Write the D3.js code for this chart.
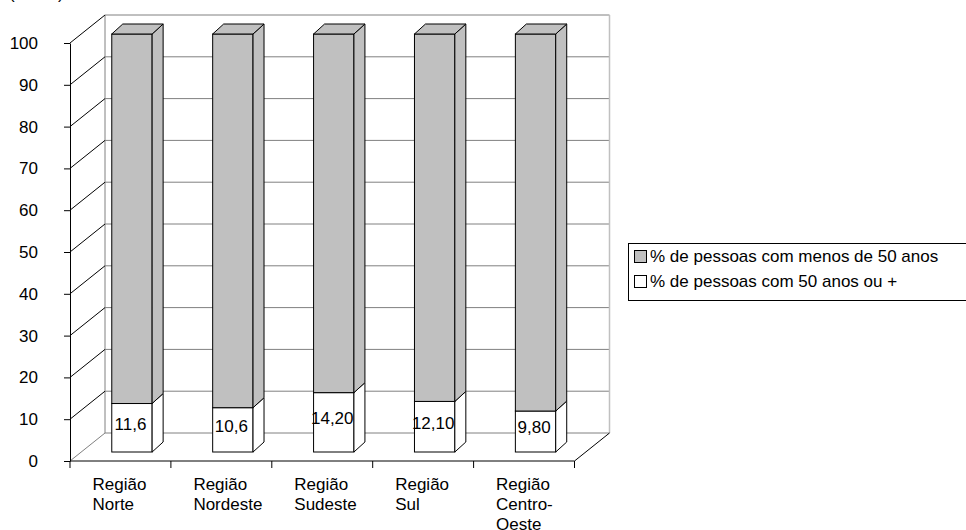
<!DOCTYPE html>
<html>
<head>
<meta charset='utf-8'>
<script src='https://cdn.jsdelivr.net/npm/d3@7'></script>
<style>
  body { margin: 0; background: #fff; }
  svg { display: block; font-family: 'Liberation Sans', Arial, sans-serif; }
</style>
</head>
<body>
<div id='chart'></div>

<script>
  categories = [['Região', 'Norte'], ['Região', 'Nordeste'], ['Região', 'Sudeste'], ['Região', 'Sul'], ['Região', 'Centro-', 'Oeste']]
  older = [11.6, 10.6, 14.2, 12.1, 9.8]
  younger = [88.4, 89.4, 85.8, 87.9, 90.2]
  olderLabels = ['11,6', '10,6', '14,20', '12,10', '9,80']
  seriesNames = ['% de pessoas com menos de 50 anos', '% de pessoas com 50 anos ou +']
  seriesColors = ['#c0c0c0', '#ffffff']
  yTicks = [0, 10, 20, 30, 40, 50, 60, 70, 80, 90, 100]

  // 3d offsets: wall depth, bar front plane, bar depth
  wall = {x: 35, y: -28}
  front = {x: 11.5, y: -9}
  bar = {x: 11, y: -10}

  svg = d3.select('#chart')
          .append('svg')
          .attr('width', 966)
          .attr('height', 530)

  y = d3.scaleLinear()
        .domain([0, 100])
        .range([461, 43])

  xCat = d3.scaleBand()
           .domain(d3.range(categories.length))
           .range([70, 574.5])

  x = d3.scaleBand()
        .domain(d3.range(categories.length))
        .range([70, 574.5])
        .paddingInner(0.6)
        .paddingOuter(0.3)

  x0 = xCat.range()[0]
  x1 = xCat.range()[1]

  // partial heading at the very top
  svg.append('text')
     .attr('x', 9)
     .attr('y', -1)
     .attr('font-size', 17)
     .text('(em %)')

  // back wall
  walls = svg.append('g')

  walls.selectAll('line.grid')
       .data(yTicks.slice(1))
       .enter()
       .append('line')
       .attr('x1', x0 + wall.x)
       .attr('x2', x1 + wall.x)
       .attr('y1', function(d) { return y(d) + wall.y })
       .attr('y2', function(d) { return y(d) + wall.y })
       .attr('stroke', '#808080')

  walls.append('line')
       .attr('x1', x0 + wall.x)
       .attr('x2', x1 + wall.x)
       .attr('y1', y(0) + wall.y)
       .attr('y2', y(0) + wall.y)
       .attr('stroke', '#808080')

  walls.append('line')
       .attr('x1', x0 + wall.x)
       .attr('x2', x0 + wall.x)
       .attr('y1', y(100) + wall.y)
       .attr('y2', y(0) + wall.y)
       .attr('stroke', '#808080')

  walls.append('line')
       .attr('x1', x1 + wall.x)
       .attr('x2', x1 + wall.x)
       .attr('y1', y(100) + wall.y)
       .attr('y2', y(0) + wall.y)
       .attr('stroke', '#c0c0c0')
       .attr('stroke-width', 1.5)

  // side wall diagonals
  walls.selectAll('line.diag')
       .data(yTicks)
       .enter()
       .append('line')
       .attr('x1', x0)
       .attr('x2', x0 + wall.x)
       .attr('y1', function(d) { return y(d) })
       .attr('y2', function(d) { return y(d) + wall.y })
       .attr('stroke', function(d) { return d == 0 ? '#808080' : '#000' })

  // floor right edge
  walls.append('line')
       .attr('x1', x1)
       .attr('x2', x1 + wall.x)
       .attr('y1', y(0))
       .attr('y2', y(0) + wall.y)
       .attr('stroke', '#000')

  // y axis
  yAxis = svg.append('g')
             .attr('transform', 'translate(' + x0 + ',0)')
             .call(d3.axisLeft(y).tickValues(yTicks).tickSize(6).tickPadding(26).tickSizeOuter(0))

  yAxis.attr('font-size', 17).attr('font-family', null)
  yAxis.select('.domain').attr('stroke', '#000')
  yAxis.selectAll('.tick line').attr('stroke', '#000')
  yAxis.selectAll('.tick text').attr('fill', '#000')

  // x axis
  svg.append('line')
     .attr('x1', x0)
     .attr('x2', x1)
     .attr('y1', y(0))
     .attr('y2', y(0))
     .attr('stroke', '#000')

  svg.selectAll('line.xtick')
     .data(d3.range(categories.length + 1))
     .enter()
     .append('line')
     .attr('x1', function(d) { return x0 + d * xCat.step() })
     .attr('x2', function(d) { return x0 + d * xCat.step() })
     .attr('y1', y(0))
     .attr('y2', y(0) + 7)
     .attr('stroke', '#000')

  svg.selectAll('text.cat')
     .data(categories)
     .enter()
     .append('text')
     .attr('font-size', 17)
     .attr('x', function(d, i) { return xCat(i) + 22.5 })
     .attr('y', 490)
     .selectAll('tspan')
     .data(function(d) { return d })
     .enter()
     .append('tspan')
     .attr('x', function() { return d3.select(this.parentNode).attr('x') })
     .attr('dy', function(d, i) { return i == 0 ? 0 : 20 })
     .text(function(d) { return d })

  // bars
  function block(g, i, v0, v1, fill, withTop) {
    var left = x(i) + front.x
    var right = left + x.bandwidth()
    var top = y(v1) + front.y
    var bottom = y(v0) + front.y

    g.append('rect')
     .attr('x', left)
     .attr('y', top)
     .attr('width', right - left)
     .attr('height', bottom - top)
     .attr('fill', fill)
     .attr('stroke', '#000')

    g.append('polygon')
     .attr('points', [[right, top], [right + bar.x, top + bar.y], [right + bar.x, bottom + bar.y], [right, bottom]].join(' '))
     .attr('fill', fill)
     .attr('stroke', '#000')
     .attr('stroke-linejoin', 'round')

    if (withTop) {
      g.append('polygon')
       .attr('points', [[left, top], [left + bar.x, top + bar.y], [right + bar.x, top + bar.y], [right, top]].join(' '))
       .attr('fill', fill)
       .attr('stroke', '#000')
       .attr('stroke-linejoin', 'round')
    }
  }

  bars = svg.append('g')

  categories.forEach(function(c, i) {
    var g = bars.append('g')
    block(g, i, 0, older[i], seriesColors[1], false)
    block(g, i, older[i], older[i] + younger[i], seriesColors[0], true)
  })

  bars.selectAll('text')
      .data(olderLabels)
      .enter()
      .append('text')
      .attr('font-size', 17)
      .attr('text-anchor', 'middle')
      .attr('x', function(d, i) { return x(i) + front.x + x.bandwidth() / 2 - 1.5 })
      .attr('y', function(d, i) { return (y(0) + y(older[i])) / 2 + front.y - 4 })
      .attr('dy', '0.35em')
      .text(function(d) { return d })

  // legend
  legend = svg.append('g')

  legend.append('rect')
        .attr('x', 628.5)
        .attr('y', 243.5)
        .attr('width', 345)
        .attr('height', 57)
        .attr('fill', '#fff')
        .attr('stroke', '#000')

  items = legend.selectAll('g')
                .data(seriesNames)
                .enter()
                .append('g')
                .attr('transform', function(d, i) { return 'translate(634,' + (250 + i * 25) + ')' })

  items.append('rect')
       .attr('x', 0.5)
       .attr('y', 0.5)
       .attr('width', 12)
       .attr('height', 12)
       .attr('fill', function(d, i) { return seriesColors[i] })
       .attr('stroke', '#000')

  items.append('text')
       .attr('x', 16)
       .attr('y', 6.5)
       .attr('dy', '0.35em')
       .attr('font-size', 17)
       .text(function(d) { return d })
</script>
</body>
</html>
